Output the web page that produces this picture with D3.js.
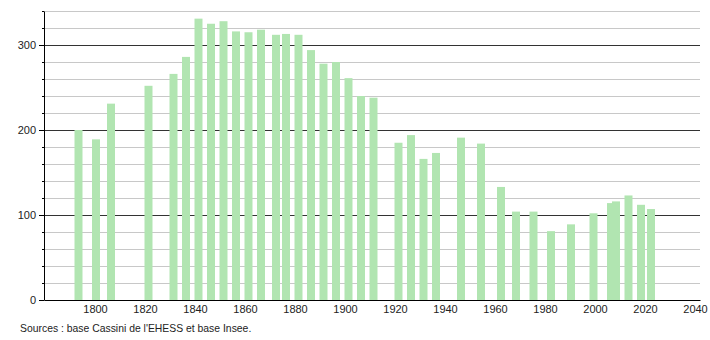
<!DOCTYPE html>
<html>
<head>
<meta charset="utf-8">
<script src="https://cdn.jsdelivr.net/npm/d3@7"></script>
<style>
  body { margin: 0; background: #fff; }
  text { font-family: "Liberation Sans", Arial, sans-serif; }
</style>
</head>
<body>
<div id="chart"></div>
<script>
// census years and population
var years = [1793, 1800, 1806, 1821, 1831, 1836, 1841, 1846, 1851, 1856, 1861, 1866,
  1872, 1876, 1881, 1886, 1891, 1896, 1901, 1906, 1911, 1921, 1926, 1931, 1936,
  1946, 1954, 1962, 1968, 1975, 1982, 1990, 1999, 2006, 2008, 2013, 2018, 2022];
var population = [200, 189, 231, 252, 266, 286, 331, 325, 328, 316, 315, 318,
  312, 313, 312, 294, 278, 280, 261, 240, 238, 185, 194, 166, 173,
  191, 184, 133, 104, 104, 81, 89, 102, 114, 116, 123, 112, 107];
var xTicks = [1800, 1820, 1840, 1860, 1880, 1900, 1920, 1940, 1960, 1980, 2000, 2020, 2040];
var yMajor = [0, 100, 200, 300];
var sourceText = "Sources : base Cassini de l'EHESS et base Insee.";

var svgWidth = 710;
var svgHeight = 340;
var margin = { top: 11, right: 10, bottom: 40, left: 44 };
var width = svgWidth - margin.left - margin.right;
var height = svgHeight - margin.top - margin.bottom;

var svg = d3.select("#chart").append("svg")
  .attr("width", svgWidth)
  .attr("height", svgHeight);

var chart = svg.append("g")
  .attr("transform", `translate(${margin.left}, ${margin.top})`);

var x = d3.scaleLinear().domain([1779.6, 2042]).range([0, width]);
var y = d3.scaleLinear().domain([0, 340]).range([height, 0]);

// gridlines
var gridVals = d3.range(20, 341, 20);
chart.selectAll(".grid").data(gridVals).enter()
  .append("line")
  .attr("x1", 0).attr("x2", width)
  .attr("y1", d => Math.round(y(d)) + 0.5)
  .attr("y2", d => Math.round(y(d)) + 0.5)
  .attr("stroke", d => d % 100 === 0 ? "#333" : "#c8c8c8")
  .attr("stroke-width", 1);

// bars
var barW = 8;
chart.selectAll(".bar").data(years).enter()
  .append("rect")
  .attr("x", (d) => x(d + 0.4) - barW / 2)
  .attr("y", (d, i) => y(population[i]))
  .attr("width", barW)
  .attr("height", (d, i) => height - y(population[i]))
  .attr("fill", "#b1e5b1");

// y axis
var leftAxis = d3.axisLeft(y)
  .tickValues(d3.range(0, 341, 20))
  .tickSize(0)
  .tickFormat(d => yMajor.includes(d) ? d : "");
var yg = chart.append("g").call(leftAxis);
yg.select(".domain").attr("stroke", "#000");
yg.selectAll(".tick line")
  .attr("x2", d => yMajor.includes(d) ? -5 : -2)
  .attr("stroke", "#000");
yg.selectAll(".tick text")
  .attr("x", -8)
  .attr("font-size", "11px")
  .attr("font-family", "Liberation Sans, Arial, sans-serif")
  .attr("fill", "#222");

// x axis
var bottomAxis = d3.axisBottom(x).tickValues(xTicks).tickSize(0).tickFormat(d3.format("d"));
var xg = chart.append("g")
  .attr("transform", `translate(0, ${height})`)
  .call(bottomAxis);
xg.select(".domain").attr("stroke", "#000");
xg.selectAll(".tick text")
  .attr("y", 5)
  .attr("font-size", "11px")
  .attr("font-family", "Liberation Sans, Arial, sans-serif")
  .attr("fill", "#222");

svg.append("text")
  .attr("x", 20)
  .attr("y", 332)
  .attr("font-size", "10.4px")
  .attr("fill", "#222")
  .text(sourceText);
</script>
</body>
</html>
